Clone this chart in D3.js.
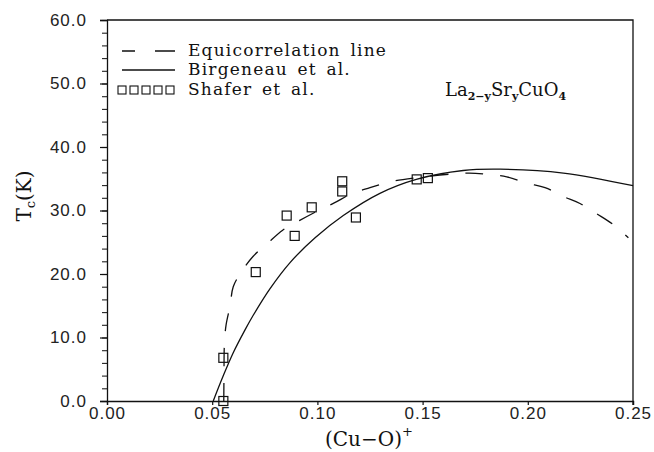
<!DOCTYPE html>
<meta charset="utf-8">
<style>
    body { margin: 0; background: #fff; }
    .tick text { font-family: "Liberation Sans", Arial, sans-serif; font-size: 17px; letter-spacing: 1px; fill: #222; }
    .serif { font-family: "DejaVu Serif", "Liberation Serif", serif; fill: #111; }
</style>
<body>
<div id="chart"></div>
<script src="https://cdn.jsdelivr.net/npm/d3@7"></script>
<script>

// Birgeneau et al. (solid curve)
var birgX = [0.0505, 0.0553, 0.060, 0.0656, 0.0695, 0.0775, 0.087, 0.0989, 0.1123, 0.1297, 0.147, 0.1693, 0.1868, 0.2169, 0.25];
var birgY = [0.0, 4.0, 7.6, 11.2, 13.5, 17.7, 21.8, 25.7, 29.2, 32.7, 34.9, 36.3, 36.5, 35.9, 33.9];

// Equicorrelation line (dashed)
var equiX = [0.0555, 0.0556, 0.0558, 0.0566, 0.0585, 0.0600, 0.0640, 0.0695, 0.0762, 0.0835, 0.0914, 0.0993, 0.108, 0.1166, 0.125, 0.1342, 0.1456, 0.1717, 0.1805, 0.190, 0.1995, 0.2082, 0.2169, 0.2248, 0.2327, 0.2406, 0.2478];
var equiY = [0.0, 4.0, 9.0, 12.0, 15.0, 18.0, 20.4, 22.8, 24.8, 26.9, 28.4, 29.8, 31.2, 32.7, 33.6, 34.5, 35.1, 35.9, 35.7, 35.3, 34.3, 33.6, 32.2, 31.1, 29.5, 27.8, 25.7];

// Shafer et al. (squares)
var shaferX = [0.0553, 0.0553, 0.0707, 0.0854, 0.0892, 0.0973, 0.1118, 0.1118, 0.1183, 0.1472, 0.1525];
var shaferY = [0.0, 6.8, 20.3, 29.2, 26.0, 30.5, 34.6, 33.0, 28.9, 34.9, 35.1];

var xTicks = [0, 0.05, 0.10, 0.15, 0.20, 0.25];
var yTicks = [0, 10, 20, 30, 40, 50, 60];
var yMinor = d3.range(0, 61, 2);

var width = 654,
    height = 452;

var x = d3.scaleLinear().domain([0, 0.25]).range([107, 633]);
var y = d3.scaleLinear().domain([0, 60]).range([401, 20]);

var svg = d3.select("#chart").append("svg")
    .attr("width", width)
    .attr("height", height);

// frame
svg.append("path")
    .attr("d", "M" + x(0) + "," + y(60) + "H" + x(0.25) + "V" + (y(0) + 4))
    .attr("fill", "none")
    .attr("stroke", "#111")
    .attr("stroke-width", 1.3);

// y minor ticks
svg.append("g")
    .attr("transform", "translate(" + x(0) + ",0)")
    .call(d3.axisLeft(y).tickValues(yMinor).tickSize(5).tickFormat(""))
    .call(function(g) { g.select(".domain").remove(); })
    .selectAll("line").attr("stroke", "#222").attr("stroke-width", 1.1);

// y axis
svg.append("g")
    .attr("transform", "translate(" + x(0) + ",0)")
    .call(d3.axisLeft(y).tickValues(yTicks).tickSize(7).tickPadding(13).tickFormat(d3.format(".1f")))
    .call(function(g) {
      g.select(".domain").attr("stroke", "#111").attr("stroke-width", 1.3);
      g.selectAll("line").attr("stroke", "#111").attr("stroke-width", 1.2);
    });

// x axis
svg.append("g")
    .attr("transform", "translate(0," + y(0) + ")")
    .call(d3.axisBottom(x).tickValues(xTicks).tickSize(4).tickPadding(2).tickFormat(d3.format(".2f")))
    .call(function(g) {
      g.select(".domain").attr("stroke", "#111").attr("stroke-width", 1.3);
      g.selectAll("line").attr("stroke", "#111").attr("stroke-width", 1.2);
    });

// axis titles
var yt = svg.append("text")
    .attr("class", "serif")
    .attr("transform", "translate(31,196) rotate(-90)")
    .attr("text-anchor", "middle")
    .attr("font-size", 20);
yt.append("tspan").text("T");
yt.append("tspan").attr("font-size", 13).attr("dy", 4).text("c");
yt.append("tspan").attr("dy", -4).text("(K)");

var xt = svg.append("text")
    .attr("class", "serif")
    .attr("x", 325)
    .attr("y", 446)
    .attr("font-size", 20);
xt.append("tspan").text("(Cu\u2212O)");
xt.append("tspan").attr("font-size", 13).attr("dy", -10).text("+");

// curves
var equi = equiX.map(function(d, i) { return [d, equiY[i]]; });
var birg = birgX.map(function(d, i) { return [d, birgY[i]]; });

var line = d3.line()
    .x(function(d) { return x(d[0]); })
    .y(function(d) { return y(d[1]); })
    .curve(d3.curveCatmullRom.alpha(0.5));

svg.append("path")
    .datum(equi)
    .attr("d", line)
    .attr("fill", "none")
    .attr("stroke", "#111")
    .attr("stroke-width", 1.3)
    .attr("stroke-dasharray", "18,17");

svg.append("path")
    .datum(birg)
    .attr("d", line)
    .attr("fill", "none")
    .attr("stroke", "#111")
    .attr("stroke-width", 1.3);

// squares
svg.selectAll("rect.pt")
    .data(shaferX)
  .enter().append("rect")
    .attr("class", "pt")
    .attr("x", function(d) { return x(d) - 4.5; })
    .attr("y", function(d, i) { return y(shaferY[i]) - 4.5; })
    .attr("width", 9)
    .attr("height", 9)
    .attr("fill", "none")
    .attr("stroke", "#111")
    .attr("stroke-width", 1.2);

// legend
var legend = svg.append("g");
legend.append("line")
    .attr("x1", 122).attr("x2", 175).attr("y1", 51).attr("y2", 51)
    .attr("stroke", "#111").attr("stroke-width", 1.3)
    .attr("stroke-dasharray", "13,20,20");
legend.append("line")
    .attr("x1", 122).attr("x2", 175).attr("y1", 70).attr("y2", 70)
    .attr("stroke", "#111").attr("stroke-width", 1.3);
legend.selectAll("rect")
    .data(d3.range(5))
  .enter().append("rect")
    .attr("x", function(d) { return 118 + d * 12; })
    .attr("y", 86)
    .attr("width", 8).attr("height", 8)
    .attr("fill", "none").attr("stroke", "#111").attr("stroke-width", 1.1);

var legendLabels = ["Equicorrelation line", "Birgeneau et al.", "Shafer et al."];
var legendY = [56, 75, 95];
legend.selectAll("text")
    .data(legendLabels)
  .enter().append("text")
    .attr("class", "serif")
    .attr("x", 188)
    .attr("y", function(d, i) { return legendY[i]; })
    .attr("font-size", 17)
    .attr("letter-spacing", 1.2)
    .attr("word-spacing", 3)
    .text(function(d) { return d; });

// compound label
var comp = svg.append("text")
    .attr("class", "serif")
    .attr("x", 445)
    .attr("y", 96)
    .attr("font-size", 18);
comp.append("tspan").text("La");
comp.append("tspan").attr("font-size", 11).attr("font-weight", "bold").attr("dy", 4).text("2\u2212y");
comp.append("tspan").attr("dy", -4).text("Sr");
comp.append("tspan").attr("font-size", 11).attr("font-weight", "bold").attr("dy", 4).text("y");
comp.append("tspan").attr("dy", -4).text("CuO");
comp.append("tspan").attr("font-size", 11).attr("font-weight", "bold").attr("dy", 4).text("4");

</script>
</body>
